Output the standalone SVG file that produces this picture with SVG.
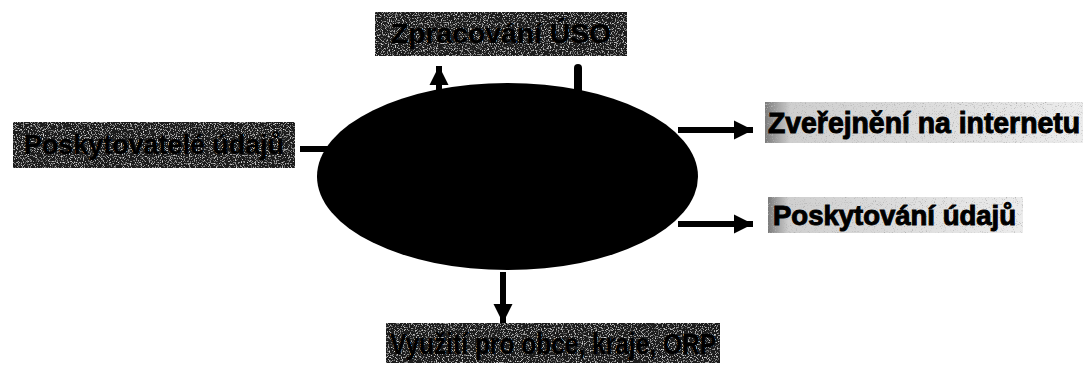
<svg xmlns="http://www.w3.org/2000/svg" width="1085" height="367" viewBox="0 0 1085 367">
<style>
.dark{fill:#1e1e1e}
.light{fill:url(#lg)}
.t{font-family:"Liberation Sans",Arial,sans-serif;font-weight:bold;fill:#000}
.tl{stroke:#000;stroke-width:1}
.conn{stroke:#000;stroke-width:6;fill:none}
</style>
<defs>
<linearGradient id="lg" x1="0" y1="0" x2="1" y2="0">
<stop offset="0" stop-color="#7a7a7a"/>
<stop offset="0.08" stop-color="#cfcfcf"/>
<stop offset="1" stop-color="#ececec"/>
</linearGradient>
<filter id="speck" x="0" y="0" width="1" height="1">
<feTurbulence type="fractalNoise" baseFrequency="0.85" numOctaves="2" seed="3" result="n"/>
<feColorMatrix in="n" type="matrix" values="0 0 0 0 0.75  0 0 0 0 0.75  0 0 0 0 0.75  0 0 0 3.5 -1.9" result="w"/>
<feComposite in="w" in2="SourceGraphic" operator="atop"/>
</filter>
<filter id="speckL" x="0" y="0" width="1" height="1">
<feTurbulence type="fractalNoise" baseFrequency="0.9" numOctaves="2" seed="7" result="n"/>
<feColorMatrix in="n" type="matrix" values="0 0 0 0 0.45  0 0 0 0 0.45  0 0 0 0 0.45  0 0 0 4 -2.3" result="w"/>
<feComposite in="w" in2="SourceGraphic" operator="atop"/>
</filter>
<marker id="ah" viewBox="0 0 10 10" refX="10" refY="5" markerWidth="3.2" markerHeight="3.2" markerUnits="strokeWidth" orient="auto">
<path d="M0,0 L10,5 L0,10 z" fill="#000"/>
</marker>
</defs>

<g id="center">
<ellipse cx="507.5" cy="176.5" rx="190.5" ry="93.5" fill="#000"/>
</g>

<g id="zpracovani">
<rect class="dark" x="375" y="12" width="252" height="44" filter="url(#speck)"/>
<text class="t" x="501" y="43" font-size="27" text-anchor="middle" textLength="220" lengthAdjust="spacingAndGlyphs">Zpracování ÚSO</text>
</g>

<g id="poskytovatele">
<rect class="dark" x="13" y="122" width="282" height="46" filter="url(#speck)"/>
<text class="t" x="154" y="154" font-size="27" text-anchor="middle" textLength="260" lengthAdjust="spacingAndGlyphs">Poskytovatelé údajů</text>
</g>

<g id="zverejneni">
<rect class="light" x="765" y="102" width="318" height="41" filter="url(#speckL)"/>
<text class="t tl" x="768" y="133" font-size="29" textLength="312" lengthAdjust="spacingAndGlyphs">Zveřejnění na internetu</text>
</g>

<g id="poskytovani">
<rect class="light" x="768" y="197" width="255" height="36" filter="url(#speckL)"/>
<text class="t tl" x="773" y="225" font-size="28" textLength="243" lengthAdjust="spacingAndGlyphs">Poskytování údajů</text>
</g>

<g id="vyuziti">
<rect class="dark" x="386" y="323" width="334" height="40" filter="url(#speck)"/>
<text class="t" x="390" y="354" font-size="29" textLength="326" lengthAdjust="spacingAndGlyphs">Využití pro obce, kraje, ORP</text>
</g>

<g id="connectors">
<line class="conn" x1="439" y1="90" x2="439" y2="66" marker-end="url(#ah)"/>
<line x1="578" y1="68" x2="578" y2="92" stroke="#000" stroke-width="8" stroke-linecap="round"/>
<line class="conn" x1="300" y1="149" x2="330" y2="149"/>
<line class="conn" x1="678" y1="130" x2="753" y2="130" marker-end="url(#ah)"/>
<line class="conn" x1="678" y1="224" x2="753" y2="224" marker-end="url(#ah)"/>
<line class="conn" x1="503" y1="272" x2="503" y2="323" marker-end="url(#ah)"/>
</g>
</svg>
